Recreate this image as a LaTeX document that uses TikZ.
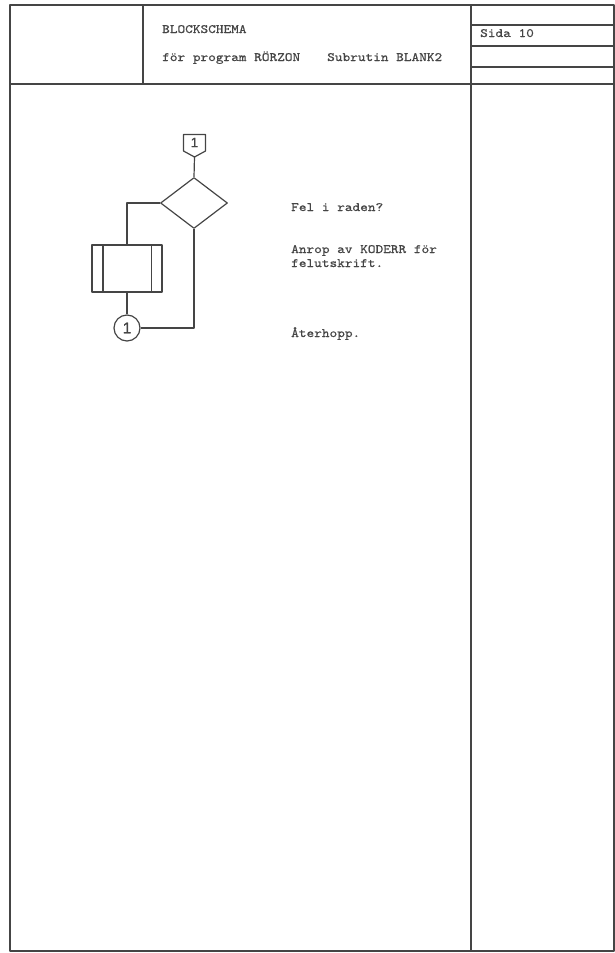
\documentclass[tikz,border=0pt]{standalone}
\usepackage{fontspec}
\usepackage{tikz}
\usetikzlibrary{positioning, shapes.geometric}
\newfontfamily\skrivfont{lmmono10-regular.otf}[FakeStretch=1.15, FakeBold=0.6]
\newfontfamily\siffont{Liberation Sans}[FakeBold=1.2]
\definecolor{blyerts}{HTML}{454545}

\begin{document}
\begin{tikzpicture}[x=1pt, y=-1pt, line join=round,
    ram/.style={draw=blyerts, line width=1.2pt},
    linje/.style={draw=blyerts, line width=1.2pt},
    skrift/.style={text=blyerts, font=\skrivfont\fontsize{12.7}{14}\selectfont, inner sep=0pt, anchor=base west, align=left},
    siffra/.style={text=blyerts, font=\siffont\fontsize{13.5}{13.5}\selectfont, inner sep=0pt},
    beslut/.style={diamond, linje, minimum width=67pt, minimum height=51pt, inner sep=0pt},
    rutin/.style={rectangle, linje, minimum width=70pt, minimum height=47pt, inner sep=0pt},
    konn/.style={circle, linje, minimum size=26pt, inner sep=0pt, text=blyerts, font=\siffont\fontsize{15.5}{15.5}\selectfont}]

    \useasboundingbox (0,0) rectangle (615,953);

    % blankett
    \draw[ram] (10,5) rectangle (614,951);
    \draw[ram] (10,84) -- (614,84);
    \draw[ram] (143,5) -- (143,84);
    \draw[ram] (471,5) -- (471,951);
    \foreach \y in {25, 46, 67} {
        \draw[ram] (471,\y) -- (614,\y);
    }
    \node[skrift] (rubrik) at (162,33) {BLOCKSCHEMA};
    \node[skrift] (program) at (162,61) {för program RÖRZON};
    \node[skrift] (subrutin) at (327,61) {Subrutin BLANK2};
    \node[skrift] (sida) at (480,37) {Sida 10};

    % blockschema
    \node[siffra] (ingang) at (194.5,142.5) {1};
    \draw[linje] (183.5,134.5) -- (205.5,134.5) -- (205.5,151) -- (194.5,157) -- (183.5,151) -- cycle;
    \coordinate (spets) at (194.5,157);
    \node[beslut] (fel) at (194,203) {};
    \node[rutin] (koderr) at (127,268.5) {};
    \draw[linje] ([xshift=11.5pt]koderr.north west) -- ([xshift=11.5pt]koderr.south west);
    \draw[linje] ([xshift=-11.5pt]koderr.north east) -- ([xshift=-11.5pt]koderr.south east);
    \node[konn] (retur) at (127,328) {1};

    \draw[linje] (spets) -- (fel.north);
    \draw[linje] (fel.west) -| (koderr.north);
    \draw[linje] (koderr.south) -- (retur.north);
    \draw[linje] (fel.south) |- (retur.east);

    % kommentarer
    \node[skrift] (felrad) at (291,211) {Fel i raden?};
    \node[skrift] (anrop) at (291,267) {Anrop av KODERR för\\felutskrift.};
    \node[skrift] (aterhopp) at (291,337) {Återhopp.};
\end{tikzpicture}
\end{document}
